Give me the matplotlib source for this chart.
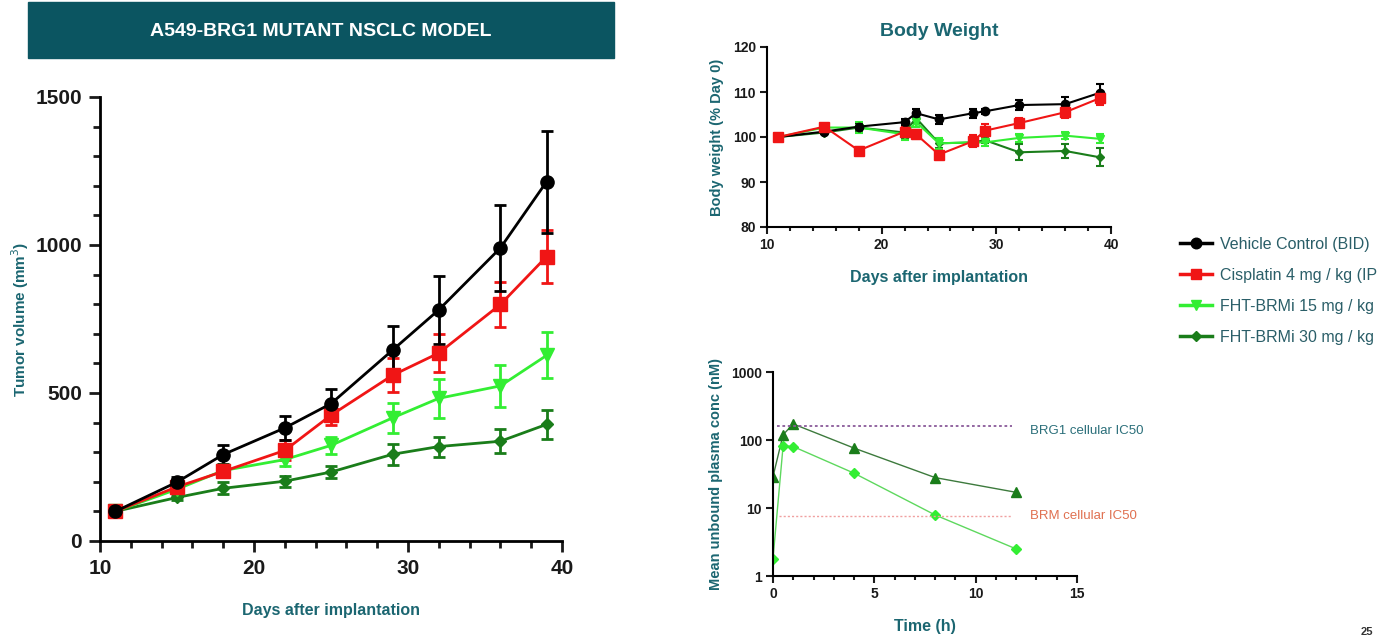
import matplotlib
matplotlib.use("Agg")
import matplotlib.pyplot as plt
from matplotlib.lines import Line2D
from matplotlib.patches import Rectangle
from matplotlib.ticker import MultipleLocator, FixedLocator, NullLocator

plt.rcParams['font.family'] = ['Liberation Sans', 'DejaVu Sans']

# ---------------- data ----------------
days = [11, 15, 18, 22, 25, 29, 32, 36, 39]
tv_vehicle = [100, 199, 292, 382, 464, 645, 781, 990, 1214]
tv_vehicle_err = [8, 18, 33, 40, 50, 80, 114, 145, 172]
tv_cis = [100, 183, 235, 306, 425, 560, 635, 799, 961]
tv_cis_err = [8, 15, 20, 34, 33, 57, 64, 77, 90]
tv_brmi15 = [100, 175, 238, 275, 323, 416, 482, 524, 627]
tv_brmi15_err = [8, 12, 18, 20, 30, 51, 66, 72, 78]
tv_brmi30 = [100, 147, 178, 202, 233, 293, 319, 337, 394]
tv_brmi30_err = [8, 10, 20, 18, 20, 35, 34, 40, 50]

bw_days = [11, 15, 18, 22, 23, 25, 28, 29, 32, 36, 39]
bw_vehicle = [100, 101.2, 102.3, 103.3, 105.3, 103.9, 105.3, 105.7, 107.1, 107.3, 109.8]
bw_vehicle_err = [0.3, 0.4, 0.5, 0.6, 1.0, 0.9, 1.0, 0.5, 1.1, 1.5, 1.9]
bw_cis = [100, 102.3, 97.0, 101.2, 100.6, 96.1, 99.1, 101.4, 103.1, 105.5, 108.6]
bw_cis_err = [0.3, 0.6, 0.7, 1.0, 1.0, 0.8, 1.3, 1.4, 1.1, 1.2, 1.4]
bw_brmi15 = [100, 102.1, 102.1, 100.6, 103.3, 98.6, 98.8, 98.8, 99.8, 100.3, 99.6]
bw_brmi15_err = [0.3, 0.5, 1.2, 1.2, 1.0, 1.2, 0.8, 0.8, 0.8, 0.8, 1.0]
bw_brmi30 = [100, 101.0, 102.1, 101.0, 104.2, 98.6, 98.8, 99.3, 96.6, 96.9, 95.5]
bw_brmi30_err = [0.3, 0.4, 0.8, 1.2, 1.0, 1.0, 0.8, 0.6, 1.8, 1.5, 2.0]

pk_time = [0, 0.5, 1, 4, 8, 12]
pk_30mg = [29, 120, 172, 76, 28, 17]
pk_15mg = [1.8, 83, 80, 32.5, 7.9, 2.5]
brg1_ic50 = 160
brm_ic50 = 7.7

# legend labels as visible (cut at the slide edge in the reference)
labels = ["Vehicle Control (BID)", "Cisplatin 4 mg / kg (IP",
          "FHT-BRMi 15 mg / kg", "FHT-BRMi 30 mg / kg"]

# ---------------- style ----------------
C_BLACK = "#000000"
C_RED = "#f01515"
C_LGREEN = "#33ee33"
C_DGREEN = "#1a7d1a"
TEAL = "#1b6671"
BANNER = "#0b5561"
TICKC = "#1a1a1a"

fig = plt.figure(figsize=(13.81, 6.38), dpi=100)

# banner
fig.patches.append(Rectangle((28 / 1381, 1 - 58 / 638), (614 - 28) / 1381, 56 / 638,
                             transform=fig.transFigure, color=BANNER, zorder=0))
fig.text((28 + 614) / 2 / 1381, 1 - 31 / 638, "A549-BRG1 MUTANT NSCLC MODEL",
         color="white", fontsize=14, fontweight="bold", ha="center", va="center")

series = [
    (tv_vehicle, tv_vehicle_err, C_BLACK, "o", 9.5),
    (tv_cis, tv_cis_err, C_RED, "s", 9.5),
    (tv_brmi15, tv_brmi15_err, C_LGREEN, "v", 9.5),
    (tv_brmi30, tv_brmi30_err, C_DGREEN, "D", 6.5),
]

# ---------------- main tumor volume ----------------
ax = fig.add_axes([100 / 1381, 1 - 541 / 638, (562 - 100) / 1381, (541 - 97) / 638])
for vals, errs, col, mk, ms in series[::-1]:
    ax.errorbar(days, vals, yerr=errs, color=col, marker=mk, markersize=ms,
                linewidth=2, elinewidth=2, capsize=4, capthick=2)
ax.set_xlim(10, 40)
ax.set_ylim(0, 1500)
ax.xaxis.set_major_locator(MultipleLocator(10))
ax.xaxis.set_minor_locator(MultipleLocator(2))
ax.yaxis.set_major_locator(MultipleLocator(500))
ax.yaxis.set_minor_locator(MultipleLocator(100))
for s in ["top", "right"]:
    ax.spines[s].set_visible(False)
for s in ["left", "bottom"]:
    ax.spines[s].set_linewidth(2)
ax.tick_params(which="major", length=8, width=2, labelsize=15, colors=TICKC, pad=5)
ax.tick_params(which="minor", length=5, width=2, colors=TICKC)
for lab in ax.get_xticklabels() + ax.get_yticklabels():
    lab.set_fontweight("bold")
ax.set_xlabel("Days after implantation", color=TEAL, fontsize=11.5, fontweight="bold", labelpad=18)
ax.set_ylabel("Tumor volume (mm$^3$)", color=TEAL, fontsize=11, fontweight="bold", labelpad=3)

# ---------------- body weight ----------------
bw_series = [
    (bw_vehicle, bw_vehicle_err, C_BLACK, "o", 6),
    (bw_cis, bw_cis_err, C_RED, "s", 7),
    (bw_brmi15, bw_brmi15_err, C_LGREEN, "v", 6),
    (bw_brmi30, bw_brmi30_err, C_DGREEN, "D", 4.5),
]
bx = fig.add_axes([767 / 1381, 1 - 227 / 638, (1111 - 767) / 1381, (227 - 47) / 638])
for vals, errs, col, mk, ms in [bw_series[3], bw_series[2], bw_series[0], bw_series[1]]:
    bx.errorbar(bw_days, vals, yerr=errs, color=col, marker=mk, markersize=ms,
                linewidth=1.5, elinewidth=1.5, capsize=3, capthick=1.5)
bx.set_xlim(10, 40)
bx.set_ylim(80, 120)
bx.xaxis.set_major_locator(MultipleLocator(10))
bx.xaxis.set_minor_locator(MultipleLocator(2))
bx.yaxis.set_major_locator(MultipleLocator(10))
for s in ["top", "right"]:
    bx.spines[s].set_visible(False)
for s in ["left", "bottom"]:
    bx.spines[s].set_linewidth(1.5)
bx.tick_params(which="major", length=5, width=1.5, labelsize=10, colors=TICKC, pad=3)
bx.tick_params(which="minor", length=3, width=1.5, colors=TICKC)
for lab in bx.get_xticklabels() + bx.get_yticklabels():
    lab.set_fontweight("bold")
bx.set_title("Body Weight", color=TEAL, fontsize=14, fontweight="bold", pad=8)
bx.set_xlabel("Days after implantation", color=TEAL, fontsize=11.5, fontweight="bold", labelpad=13)
bx.set_ylabel("Body weight (% Day 0)", color=TEAL, fontsize=10.5, fontweight="bold", labelpad=6)

# ---------------- legend ----------------
handles = [Line2D([], [], color=col, marker=mk, markersize=ms * 0.8, linewidth=2.5)
           for _, _, col, mk, ms in series]
fig.legend(handles, labels, loc="upper left", bbox_to_anchor=(1180 / 1381, 1 - 237 / 638),
           frameon=False, fontsize=11.5, labelcolor="#2a5e68", handlelength=2.0,
           handletextpad=0.5, labelspacing=1.0, borderaxespad=0, borderpad=0)

# ---------------- PK ----------------
px = fig.add_axes([773 / 1381, 1 - 576 / 638, (1077 - 773) / 1381, (576 - 372) / 638])
px.plot(pk_time, pk_30mg, color="#3d7a3d", marker="^", markersize=7,
        markerfacecolor=C_DGREEN, markeredgecolor=C_DGREEN, linewidth=1)
px.plot(pk_time, pk_15mg, color="#5ed85e", marker="D", markersize=5,
        markerfacecolor=C_LGREEN, markeredgecolor=C_LGREEN, linewidth=1)
px.hlines(brg1_ic50, 0.2, 11.8, colors="#8a5a9a", linestyles=(0, (1.5, 1.5)), linewidth=1.3)
px.hlines(brm_ic50, 0.3, 11.8, colors="#f0a0a0", linestyles=(0, (1.5, 1.5)), linewidth=1.0)
px.set_yscale("log")
px.set_xlim(0, 15)
px.set_ylim(1, 1000)
px.yaxis.set_major_locator(FixedLocator([1, 10, 100, 1000]))
px.yaxis.set_minor_locator(NullLocator())
px.set_yticklabels(["1", "10", "100", "1000"])
px.xaxis.set_major_locator(MultipleLocator(5))
px.xaxis.set_minor_locator(MultipleLocator(1))
for s in ["top", "right"]:
    px.spines[s].set_visible(False)
for s in ["left", "bottom"]:
    px.spines[s].set_linewidth(1.5)
px.tick_params(which="major", length=5, width=1.5, labelsize=10, colors=TICKC, pad=3)
px.tick_params(which="minor", length=3, width=1.5, colors=TICKC)
for lab in px.get_xticklabels() + px.get_yticklabels():
    lab.set_fontweight("bold")
px.set_xlabel("Time (h)", color=TEAL, fontsize=11.5, fontweight="bold", labelpad=13)
px.set_ylabel("Mean unbound plasma conc (nM)", color=TEAL, fontsize=10.5, fontweight="bold", labelpad=6)
px.text(12.7, brg1_ic50 * 0.86, "BRG1 cellular IC50", color="#2b6f7a", fontsize=9.5,
        va="center", ha="left", clip_on=False)
px.text(12.7, brm_ic50, "BRM cellular IC50", color="#e07050", fontsize=9.5,
        va="center", ha="left", clip_on=False)

# page number (cut at edge)
fig.text(1361 / 1381, 1 - 632 / 638, "25", color="#333333", fontsize=8, fontweight="bold",
         ha="left", va="center")

fig.savefig("out.png", dpi=100)
